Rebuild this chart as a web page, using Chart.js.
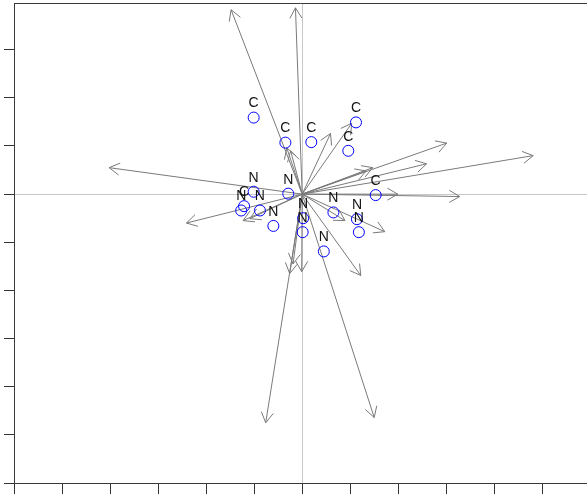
<!DOCTYPE html>
<html>
<head>
<meta charset="utf-8">
<script src="https://cdn.jsdelivr.net/npm/chart.js@4.4.1/dist/chart.umd.min.js"></script>
<style>
  html, body { margin: 0; padding: 0; background: #fff; overflow: hidden; }
  canvas { display: block; }
</style>
</head>
<body>
<canvas id="biplot" width="587" height="497"></canvas>
<script>
// arrow tips (from origin)
const arrowX = [-1.48, -0.14, -4.02, -2.41, -1.23, -1.09, 0.59, 1.03, -0.32, -0.24,
  3.01, 4.81, 2.59, 1.47, 1.33, 3.28, 1.99, 1.72, 0.89, 1.22, 1.50, -0.76, -0.26, -0.19, -0.01];
const arrowY = [3.83, 3.87, 0.55, -0.60, -0.55, -0.51, 1.26, 1.47, 0.96, 0.90,
  1.06, 0.80, 0.63, 0.55, 0.48, -0.05, 0.00, -0.78, -0.55, -1.69, -4.64, -4.75, -1.65, -1.45, -1.61];

// sample scores
const cX = [-1.01, -0.35, 0.19, 1.12, 0.96, 1.53, -1.21];
const cY = [1.59, 1.07, 1.08, 1.49, 0.90, -0.02, -0.25];
const nX = [-0.29, -1.01, -1.27, -0.88, -0.60, 0.02, 0.01, 0.45, 0.65, 1.14, 1.18];
const nY = [0.01, 0.05, -0.34, -0.34, -0.66, -0.50, -0.79, -1.19, -0.38, -0.52, -0.79];

const xTicks = [-6, -5, -4, -3, -2, -1, 0, 1, 2, 3, 4, 5];
const yTicks = [-6, -5, -4, -3, -2, -1, 0, 1, 2, 3];

const toPts = (xs, ys) => xs.map((x, i) => ({ x: x, y: ys[i] }));

const datasets = [
  { label: 'C', data: toPts(cX, cY), order: 1 },
  { label: 'N', data: toPts(nX, nY), order: 1 }
].map(d => Object.assign(d, {
  type: 'scatter',
  pointStyle: 'circle',
  pointRadius: 5.5,
  borderColor: '#0000ff',
  backgroundColor: 'rgba(0,0,0,0)',
  borderWidth: 1,
  isPoints: true
}));

arrowX.forEach((x, i) => {
  datasets.push({
    type: 'line',
    label: 'arrow' + i,
    data: [{ x: 0, y: 0 }, { x: x, y: arrowY[i] }],
    borderColor: '#7a7a7a',
    borderWidth: 1,
    pointRadius: 0,
    fill: false,
    order: 2,
    isArrow: true
  });
});

// arrow heads, drawn right after each arrow line
const arrowHeads = {
  id: 'arrowHeads',
  afterDatasetDraw(chart, args) {
    const ds = chart.data.datasets[args.index];
    if (!ds.isArrow) return;
    const p0 = args.meta.data[0], p1 = args.meta.data[1];
    const ang = Math.atan2(p1.y - p0.y, p1.x - p0.x);
    const len = 12, spread = Math.PI / 6;
    const ctx = chart.ctx;
    ctx.save();
    ctx.strokeStyle = ds.borderColor;
    ctx.lineWidth = 1;
    ctx.beginPath();
    ctx.moveTo(p1.x - len * Math.cos(ang - spread), p1.y - len * Math.sin(ang - spread));
    ctx.lineTo(p1.x, p1.y);
    ctx.lineTo(p1.x - len * Math.cos(ang + spread), p1.y - len * Math.sin(ang + spread));
    ctx.stroke();
    ctx.restore();
  }
};

// text labels above circles + top frame line
const pointLabels = {
  id: 'pointLabels',
  afterDatasetsDraw(chart) {
    const ctx = chart.ctx;
    ctx.save();
    ctx.font = '14px "Liberation Sans", Arial, sans-serif';
    ctx.fillStyle = '#111';
    ctx.textAlign = 'center';
    ctx.textBaseline = 'middle';
    chart.data.datasets.forEach((ds, i) => {
      if (!ds.isPoints) return;
      chart.getDatasetMeta(i).data.forEach(el => {
        ctx.fillText(ds.label, el.x, el.y - 14);
      });
    });
    const a = chart.chartArea;
    ctx.strokeStyle = '#3a3a3a';
    ctx.lineWidth = 1;
    ctx.beginPath();
    ctx.moveTo(a.left, a.top + 0.5);
    ctx.lineTo(a.right, a.top + 0.5);
    ctx.stroke();
    ctx.restore();
  }
};

const zeroGrid = (c) => c.tick && c.tick.value === 0 ? '#c8c8c8' : 'rgba(0,0,0,0)';

new Chart(document.getElementById('biplot'), {
  type: 'scatter',
  data: { datasets: datasets },
  options: {
    responsive: false,
    animation: false,
    events: [],
    layout: { autoPadding: false, padding: { left: 4, top: 3, right: 0, bottom: 3 } },
    plugins: { legend: { display: false }, tooltip: { enabled: false } },
    scales: {
      x: {
        type: 'linear',
        min: -6,
        max: 5.93,
        afterBuildTicks: axis => { axis.ticks = xTicks.map(v => ({ value: v })); },
        ticks: { display: false },
        grid: { color: zeroGrid, tickColor: '#333', tickLength: 11, lineWidth: 1 },
        border: { display: true, color: '#3a3a3a', width: 1 }
      },
      y: {
        type: 'linear',
        min: -6,
        max: 3.97,
        afterBuildTicks: axis => { axis.ticks = yTicks.map(v => ({ value: v })); },
        ticks: { display: false },
        grid: { color: zeroGrid, tickColor: '#333', tickLength: 10, lineWidth: 1 },
        border: { display: true, color: '#3a3a3a', width: 1 }
      }
    }
  },
  plugins: [arrowHeads, pointLabels]
});
</script>
</body>
</html>
